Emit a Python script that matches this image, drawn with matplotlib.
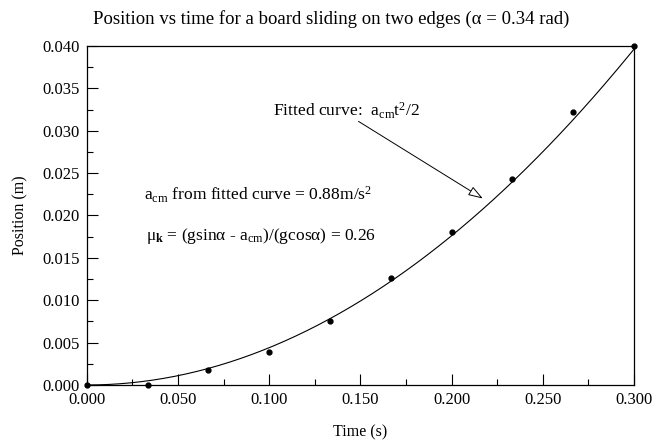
import matplotlib
matplotlib.use("Agg")
import matplotlib.pyplot as plt
import numpy as np
from matplotlib.ticker import MultipleLocator, FormatStrFormatter

plt.rcParams['font.family'] = ['Liberation Serif', 'DejaVu Serif']
plt.rcParams['mathtext.fontset'] = 'custom'
plt.rcParams['mathtext.rm'] = 'Liberation Serif'
plt.rcParams['mathtext.it'] = 'Liberation Serif:italic'
plt.rcParams['mathtext.bf'] = 'Liberation Serif:bold'

# Data
time_s = [0.0, 0.0333, 0.0667, 0.1, 0.1333, 0.1667, 0.2, 0.2333, 0.2667, 0.3]
position_m = [0.0, 0.0, 0.0018, 0.0039, 0.0075, 0.0126, 0.0180, 0.0243, 0.0322, 0.0400]
a_cm = 0.88

fig = plt.figure(figsize=(6.63, 4.42), dpi=100)
ax = fig.add_axes([0.131, 0.129, 0.825, 0.767])

t_fit = np.linspace(0, 0.3, 200)
ax.plot(t_fit, a_cm * t_fit**2 / 2, color='black', lw=0.8)
ax.plot(time_s, position_m, 'o', color='black', ms=3.5, clip_on=False, zorder=5)

ax.set_xlim(0, 0.3)
ax.set_ylim(0, 0.04)
ax.xaxis.set_major_locator(MultipleLocator(0.05))
ax.xaxis.set_minor_locator(MultipleLocator(0.025))
ax.yaxis.set_major_locator(MultipleLocator(0.005))
ax.yaxis.set_minor_locator(MultipleLocator(0.0025))
ax.xaxis.set_major_formatter(FormatStrFormatter('%.3f'))
ax.yaxis.set_major_formatter(FormatStrFormatter('%.3f'))
ax.tick_params(which='major', direction='in', length=8, width=0.8, labelsize=12, pad=5)
ax.tick_params(which='minor', direction='in', length=4.5, width=0.8)
for s in ax.spines.values():
    s.set_linewidth(0.9)

ax.set_xlabel('Time (s)', fontsize=11.5, labelpad=12)
ax.set_ylabel('Position (m)', fontsize=11.5, labelpad=10)
fig.text(0.5, 0.958, 'Position vs time for a board sliding on two edges (α = 0.34 rad)',
         fontsize=13.5, ha='center', va='center')

ax.annotate('', xy=(0.2172, 0.0220), xytext=(0.149, 0.0311),
            arrowprops=dict(arrowstyle='-|>,head_length=0.9,head_width=0.3', fc='white', ec='black', lw=0.7,
                            shrinkA=0, shrinkB=0))
ax.text(0.102, 0.0324, r'Fitted curve:  $\mathrm{a_{cm}t^2/2}$', fontsize=12.6, va='center', ha='left')
ax.text(0.0313, 0.0224, r'$\mathrm{a_{cm}}$ from fitted curve = 0.88m/s$^\mathrm{2}$', fontsize=12.6, va='center', ha='left')
ax.text(0.0325, 0.0176, r'μ$_\mathbf{k}$ = (gsinα - a$_\mathrm{cm}$)/(gcosα) = 0.26', fontsize=12.5, va='center', ha='left')

fig.savefig('out.png', dpi=100)
